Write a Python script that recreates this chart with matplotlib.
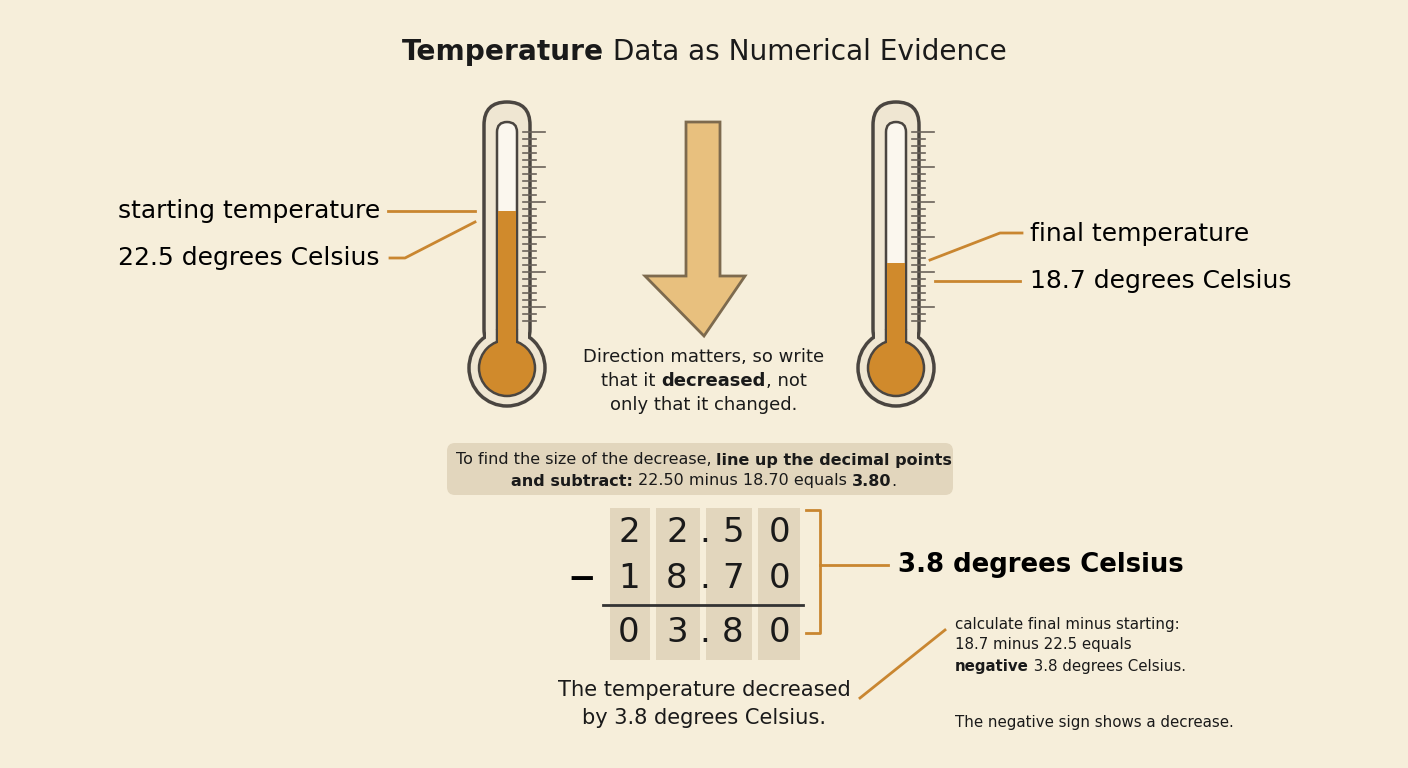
import matplotlib
matplotlib.use("Agg")
import matplotlib.pyplot as plt
from matplotlib.patches import FancyBboxPatch, Circle, Rectangle, Polygon

start_temp = 22.5
final_temp = 18.7
difference = round(start_temp - final_temp, 2)
row_labels = [f"{start_temp:05.2f}", f"{final_temp:05.2f}", f"{difference:05.2f}"]

BG = "#F6EEDA"; OR = "#D08A2C"; LN = "#C98630"; DK = "#4a4540"; BOX = "#E2D6BD"

fig = plt.figure(figsize=(14.08, 7.68), dpi=100)
fig.patch.set_facecolor(BG)
ax = fig.add_axes([0, 0, 1, 1])
ax.set_xlim(0, 1408); ax.set_ylim(768, 0); ax.axis("off")
ax.set_facecolor(BG)
fig.canvas.draw()
R = fig.canvas.get_renderer()

def px(t):
    return t * 72 / 100

def rich(x, y, segs, size, ha="center", color="#1a1a1a"):
    objs = []
    for s, b in segs:
        t = ax.text(0, y, s, fontsize=px(size), fontweight="bold" if b else "normal",
                    va="center", ha="left", color=color, family="DejaVu Sans")
        objs.append(t)
    ws = [t.get_window_extent(R).width for t in objs]
    tot = sum(ws)
    cx = x - tot / 2 if ha == "center" else (x if ha == "left" else x - tot)
    for t, w in zip(objs, ws):
        t.set_x(cx); cx += w

def T2y(T):
    return 518.9 - 13.68 * T

def thermo(cx, temp):
    # outer
    ax.add_patch(FancyBboxPatch((cx - 23, 102), 46, 250, boxstyle="round,pad=0,rounding_size=23",
                                fc="#EFE6D2", ec=DK, lw=2.5, zorder=2))
    ax.add_patch(Circle((cx, 368), 38, fc="#EFE6D2", ec=DK, lw=2.5, zorder=2))
    ax.add_patch(Rectangle((cx - 21, 330), 42, 30, fc="#EFE6D2", ec="none", zorder=3))
    # inner tube
    ax.add_patch(FancyBboxPatch((cx - 10, 122), 20, 230, boxstyle="round,pad=0,rounding_size=10",
                                fc="#FBF7EE", ec=DK, lw=1.8, zorder=4))
    ax.add_patch(Circle((cx, 368), 28, fc=OR, ec=DK, lw=1.8, zorder=4))
    top = T2y(temp)
    ax.add_patch(Rectangle((cx - 9, top), 18, 350 - top, fc=OR, ec="none", zorder=5))
    for i, yy in enumerate(range(132, 322, 7)):
        L = 22 if i % 5 == 0 else 13
        ax.plot([cx + 16, cx + 16 + L], [yy, yy], color="#6a625a", lw=1.2, zorder=3)

thermo(507, start_temp)
thermo(896, final_temp)

# title
rich(704, 52, [("Temperature", True), (" Data as Numerical Evidence", False)], 28)

# left labels
ax.text(380, 211, "starting temperature", fontsize=px(25), ha="right", va="center")
ax.text(380, 258, f"{start_temp} degrees Celsius", fontsize=px(25), ha="right", va="center")
ax.plot([388, 475], [211, 211], color=LN, lw=2)
ax.plot([390, 405, 475], [258, 258, 222], color=LN, lw=2)
# right labels
ax.text(1030, 234, "final temperature", fontsize=px(25), ha="left", va="center")
ax.text(1030, 281, f"{final_temp} degrees Celsius", fontsize=px(25), ha="left", va="center")
ax.plot([1022, 1000, 930], [233, 233, 260], color=LN, lw=2)
ax.plot([935, 1020], [281, 281], color=LN, lw=2)

# arrow
ax.add_patch(Polygon([(686, 122), (720, 122), (720, 276), (745, 276), (704, 336),
                      (645, 276), (686, 276)], closed=True, fc="#E8C07E", ec="#7d6a4e", lw=2))

rich(704, 357, [("Direction matters, so write", False)], 18)
rich(704, 381, [("that it ", False), ("decreased", True), (", not", False)], 18)
rich(704, 405, [("only that it changed.", False)], 18)

ax.add_patch(FancyBboxPatch((447, 443), 506, 52, boxstyle="round,pad=0,rounding_size=8",
                            fc=BOX, ec="none"))
rich(704, 460, [("To find the size of the decrease, ", False), ("line up the decimal points", True)], 16)
rich(704, 481, [("and subtract:", True), (" 22.50 minus 18.70 equals ", False), ("3.80", True), (".", False)], 16)

# digit grid
cols = [(610, 650), (656, 700), (706, 752), (758, 800)]
for x0, x1 in cols:
    ax.add_patch(Rectangle((x0, 508), x1 - x0, 152, fc=BOX, ec="none"))
char_x = [629, 677, 705, 733, 780]
row_y = [532, 579, 632]
for s, yy in zip(row_labels, row_y):
    for ch, xx in zip(s, char_x):
        ax.text(xx, yy, ch, fontsize=px(34), ha="center", va="center", color="#1a1a1a")
ax.text(582, 579, "\u2212", fontsize=px(34), ha="center", va="center", fontweight="bold")
ax.plot([603, 803], [605, 605], color="#333", lw=2)
ax.plot([806, 820, 820, 806], [510, 510, 633, 633], color=LN, lw=2)
ax.plot([820, 888], [565, 565], color=LN, lw=2)
ax.text(898, 565, f"{difference} degrees Celsius", fontsize=px(26), fontweight="bold",
        ha="left", va="center")

rich(955, 624, [("calculate final minus starting:", False)], 15, ha="left")
rich(955, 645, [(f"{final_temp} minus {start_temp} equals", False)], 15, ha="left")
rich(955, 666, [("negative", True), (f" {difference} degrees Celsius.", False)], 15, ha="left")
rich(955, 722, [("The negative sign shows a decrease.", False)], 15, ha="left")
ax.plot([860, 945], [698, 630], color=LN, lw=2)

rich(704, 690, [("The temperature decreased", False)], 21)
rich(704, 718, [(f"by {difference} degrees Celsius.", False)], 21)

fig.savefig("out.png", dpi=100, facecolor=BG)
